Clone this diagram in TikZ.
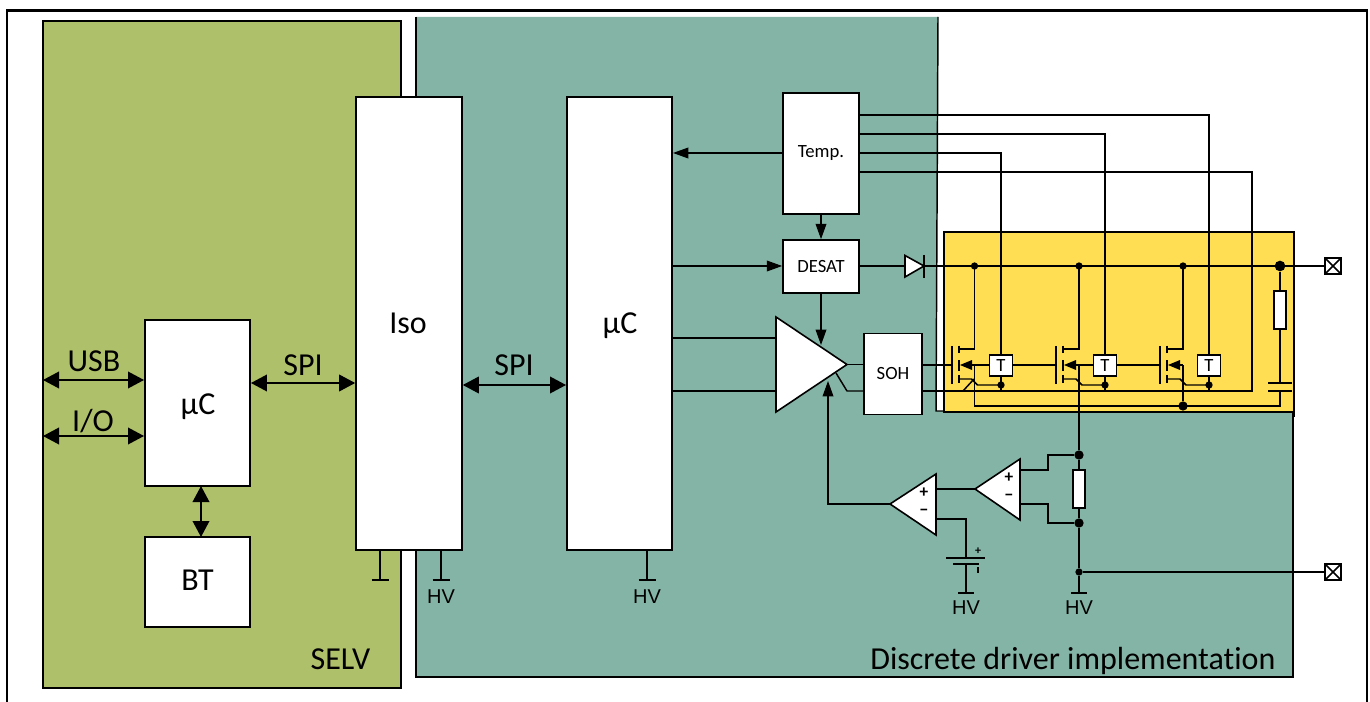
\documentclass[tikz,border=0pt]{standalone}
\usepackage{fontspec}
\setmainfont[Ligatures=CommonOff]{Carlito}
\newfontfamily\hvfont{Liberation Sans}
\usetikzlibrary{arrows.meta}
\definecolor{selvgreen}{RGB}{175,192,106}
\definecolor{driverteal}{RGB}{132,180,166}
\definecolor{igbtyellow}{RGB}{255,222,84}
\tikzset{
  wire/.style={line width=1.1pt},
  sig/.style={wire,-{Triangle[length=11.5pt,width=8pt]}},
  bus/.style={wire,{Triangle[length=12pt,width=12.5pt]}-{Triangle[length=12pt,width=12.5pt]}},
  block/.style={draw,fill=white,line width=1.2pt,inner sep=0pt},
  dot/.style={circle,fill=black,inner sep=0pt,minimum size=#1},
  dot/.default=5.5pt,
  big/.style={font=\fontsize{24}{26}\selectfont},
  small/.style={font=\fontsize{14}{16}\selectfont},
  sign/.style={font=\bfseries\fontsize{13}{13}\selectfont,inner sep=0pt},
  hv/.style={font=\hvfont\fontsize{15}{17}\selectfont},
  xbox/.style={draw,fill=white,line width=1.1pt,minimum size=12pt,inner sep=0pt,
    path picture={\draw[wire] (path picture bounding box.south west) -- (path picture bounding box.north east)
      (path picture bounding box.north west) -- (path picture bounding box.south east);}},
}
\begin{document}
\begin{tikzpicture}[x=0.75pt,y=-0.75pt]
  \useasboundingbox (0,0) rectangle (1370,702);

  % outer frame, open at the bottom
  \draw[line width=1.6pt] (7,702) -- (7,10.5) -- (1367,10.5) -- (1367,702);

  % domains
  \fill[driverteal] (416,17) -- (938,17) -- (936,411) -- (1293,411) -- (1293,677) -- (416,677) -- cycle;
  \fill[white] (936.5,232) rectangle (944,411);
  \draw[wire] (416,17) -- (416,677) -- (1293,677) -- (1293,411);
  \draw[wire] (938,17) -- (936,411) -- (944,411);
  \draw[fill=selvgreen,line width=1.3pt] (43,21) rectangle (401,688);
  \draw[fill=igbtyellow,wire] (944,232) -- (1294,232) -- (1294,412) -- (944,412) -- cycle;
  \draw[wire] (1294,412) -- (1294,417);

  \node[big,anchor=base] (selv) at (340.5,669) {SELV};
  \node[big,anchor=base east] (driver) at (1280,669) {Discrete driver implementation};

  % low voltage part
  \node[block,minimum width=79pt,minimum height=124.5pt] (uc1) at (197.5,403) {};
  \node[big,anchor=base] at (198,414) {µC};
  \node[block,minimum width=79pt,minimum height=67.5pt] (bt) at (197.5,582) {};
  \node[big,anchor=base] at (197.5,590) {BT};
  \node[block,minimum width=79.5pt,minimum height=340pt] (iso) at (409,323.5) {};
  \node[big,anchor=base] at (408,333) {Iso};
  \node[block,minimum width=79pt,minimum height=340pt] (uc2) at (619.5,323.5) {};
  \node[big,anchor=base] at (620,333) {µC};

  \coordinate (usbl) at (43,380);
  \coordinate (usbr) at (uc1.west |- usbl);
  \coordinate (iol) at (43,436);
  \coordinate (ior) at (uc1.west |- iol);
  \draw[bus] (usbl) -- (usbr);
  \draw[bus] (iol) -- (ior);
  \draw[bus] (uc1.east |- 0,383) -- (iso.west |- 0,383);
  \draw[bus] (iso.east |- 0,385) -- (uc2.west |- 0,385);
  \draw[bus] (201,486) -- (201,537);
  \node[big,anchor=base] (usb) at (94,371) {USB};
  \node[big,anchor=base] (io) at (93,431) {I/O};
  \node[big,anchor=base] (spia) at (303,375) {SPI};
  \node[big,anchor=base] (spib) at (514,375) {SPI};

  % grounds
  \foreach \x/\n/\l in {380/a/,441/b/HV,647/c/HV} {
    \draw[wire] (\x,550) -- (\x,580);
    \draw[wire] (\x-8.5,580) -- (\x+8.5,580);
    \node[hv] (gnd\n) at (\x,597) {\l};
  }

  % control blocks
  \node[block,minimum width=57pt,minimum height=90.75pt] (temp) at (821,153.5) {};
  \node[small] at (temp) {Temp.};
  \node[block,minimum width=57pt,minimum height=39.75pt] (desat) at (821,266.5) {};
  \node[small] at (desat) {DESAT};
  \node[block,minimum width=43.5pt,minimum height=60.75pt] (soh) at (893,374) {};
  \node[small] at (soh) {SOH};

  \draw[sig] (temp.west |- 0,153) -- (uc2.east |- 0,153);
  \draw[sig] (temp.south) -- (desat.north);
  \draw[sig] (uc2.east |- 0,266) -- (desat.west |- 0,266);

  % gate driver
  \draw[wire] (uc2.east |- 0,338) -- (776,338);
  \draw[wire] (uc2.east |- 0,391) -- (776,391);
  \draw[wire,line join=round] (836,373) -- (847,391) -- (soh.west |- 0,391);
  \draw[wire] (847,364.5) -- (soh.west |- 0,364.5);
  \draw[block] (776,317) -- (847,364.5) -- (776,412) -- cycle;
  \draw[sig] (desat.south) -- (821,345);
  \draw[sig] (890,504) -- (828,504) -- (828,381);

  % temperature sense lines
  \coordinate (t1top) at (1001,355);
  \coordinate (t2top) at (1105,355);
  \coordinate (t3top) at (1209,355);
  \draw[wire] (temp.east |- 0,115) -| (t3top);
  \draw[wire] (temp.east |- 0,134) -| (t2top);
  \draw[wire] (temp.east |- 0,153) -| (t1top);

  % desat rail
  \draw[wire] (desat.east |- 0,266) -- (905,266);
  \draw[block] (905,255.5) -- (924,266) -- (905,277) -- cycle;
  \draw[wire] (924,255) -- (924,278);
  \node[xbox] (phase) at (1333,266) {};
  \node[xbox] (sense) at (1333,572) {};
  \draw[wire] (924,266) -- (phase.west);

  % common source bus and return
  \draw[wire] (soh.east |- 0,391) -- (1252,391) -- (1252,172) -- (temp.east |- 0,172);
  \draw[wire] (974.5,365) -- (974.5,406) -- (1280,406) -- (1280,391);
  \draw[wire] (963,391) -- (974,379);
  \draw[wire] (soh.east |- 0,365) -- (952,365);

  % transistors
  \foreach \x/\g/\t in {974.5/952/1001,1079/1056/1105,1183/1160/1209} {
    \draw[wire] (\x,266) -- (\x,349) -- (\x-15.5,349);
    \node[dot] at (\x,266) {};
    \draw[wire] (\g,346) -- (\g,384);
    \draw[wire] (\g+7,345.5) -- (\g+7,353);
    \draw[wire] (\g+7,360) -- (\g+7,371);
    \draw[wire] (\g+7,375) -- (\g+7,383);
    \fill (\g+8,365) -- (\g+20,360) -- (\g+20,370) -- cycle;
    \draw[wire] (\g+20,365) -- (\x,365);
    \draw[wire] (\g+7,379) -- (\x-3,379) -- (\x+3,385) -- (\t,385);
    \node[dot] at (\t,385) {};
    \draw[wire] (\t,376) -- (\t,391);
  }
  \draw[wire] (974.5,365) -- (1056,365);
  \draw[wire] (1079,365) -- (1160,365);

  \foreach \t/\n in {1001/a,1105/b,1209/c} {
    \node[block,minimum width=17.5pt,minimum height=15.5pt,small] (t\n) at (\t,365.5) {T};
  }
  \node[dot=7pt] (return) at (1183,406) {};
  \draw[wire] (1183,365) -- (return);

  % snubber
  \node[dot=8pt] (snub) at (1280,266) {};
  \node[block,minimum width=9pt,minimum height=28.5pt] (rsnub) at (1280,310) {};
  \draw[wire] (snub) -- (rsnub);
  \draw[wire] (rsnub) -- (1280,383);
  \draw[wire] (1268,383) -- (1292,383);
  \draw[wire] (1268,391) -- (1292,391);
  \draw[wire] (1280,391) -- (1280,406);

  % current sense
  \node[block,minimum width=9pt,minimum height=28.5pt] (shunt) at (1079,489) {};
  \node[dot=7pt] (shunthi) at (1079,455) {};
  \node[dot=7pt] (shuntlo) at (1079,523) {};
  \node[dot] (tap) at (1079,572) {};
  \draw[wire] (1079,365) -- (shunthi) -- (shunt) (shunt) -- (shuntlo) -- (tap) -- (1079,593);
  \draw[wire] (tap) -- (sense);
  \draw[wire] (1071,593) -- (1087,593);
  \node[hv] (hvr) at (1079,608) {HV};

  \draw[wire] (1020,470) -- (1048,470) -- (1048,455) -- (shunthi);
  \draw[wire] (1020,504) -- (1048,504) -- (1048,523) -- (shuntlo);
  \draw[block] (975,489) -- (1020,459) -- (1020,520) -- cycle;
  \node[sign] (plusb) at (1009,478) {+};
  \node[sign] (minusb) at (1009,497) {−};

  \draw[wire] (936,489) -- (975,489);
  \draw[wire] (936,519) -- (966,519) -- (966,558);
  \draw[block] (890,504) -- (936,474) -- (936,535) -- cycle;
  \node[sign] (plusa) at (924,493) {+};
  \node[sign] (minusa) at (924,512) {−};

  % reference
  \draw[wire] (946,558) -- (985,558);
  \draw[wire] (953,564) -- (979,564);
  \draw[wire] (966,564) -- (966,593);
  \draw[wire] (958,593) -- (974,593);
  \node[font=\bfseries\fontsize{9}{9}\selectfont] (plusc) at (978,551) {+};
  \draw[wire] (978,567) -- (978,573);
  \node[hv] (hvl) at (966,608) {HV};
\end{tikzpicture}
\end{document}
